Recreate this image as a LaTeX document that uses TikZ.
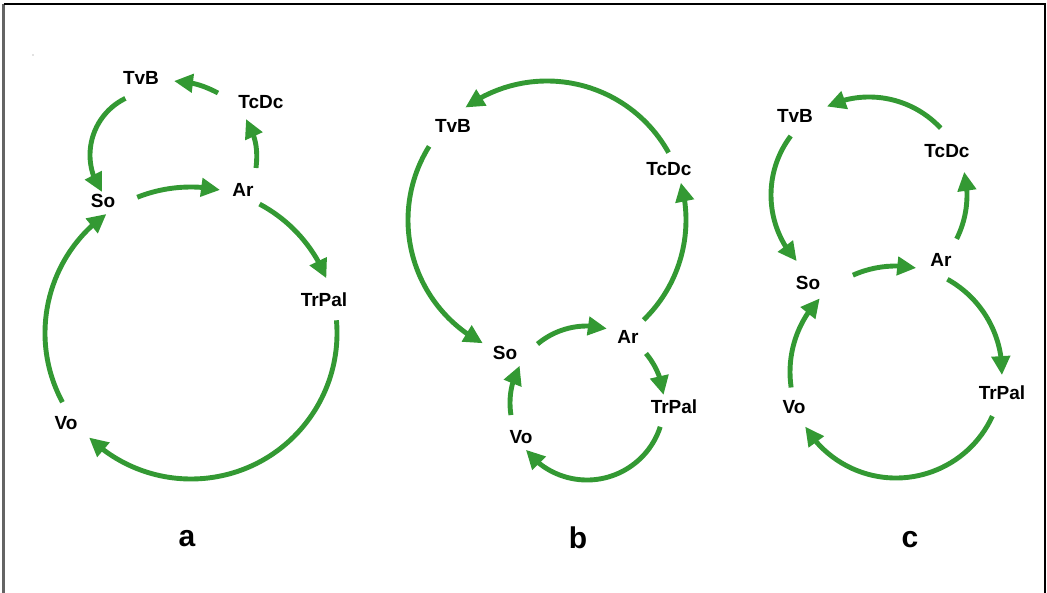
\documentclass[tikz,border=0pt]{standalone}
\usepackage{fontspec}
\setmainfont{Liberation Sans}
\usetikzlibrary{arrows.meta,bending}
\definecolor{flowgreen}{RGB}{51,153,51}
\definecolor{framegray}{RGB}{100,100,100}
\newcommand\flowarc[4]{\draw[flow] ([shift={(#2:#4)}]#1) arc[start angle=#2, end angle=#3, radius=#4];}
\begin{document}
\begin{tikzpicture}[x=1pt,y=-1pt,
  flow/.style={draw=flowgreen, line width=4.9pt, -{Triangle[length=19pt,width=18pt]}},
  lbl/.style={font=\fontsize{19}{19}\selectfont\bfseries, inner sep=0pt},
  panel/.style={font=\fontsize{30}{30}\selectfont\bfseries, inner sep=0pt}]
\useasboundingbox (0,0) rectangle (1047,593);
% frame
\coordinate (fbl) at (3.5,593);
\coordinate (ftl) at (3.5,4.5);
\coordinate (ftr) at (1045,4.5);
\coordinate (fbr) at (1045,593);
\draw[framegray, line width=2.5pt] (fbl) -- (ftl);
\draw[black, line width=2pt] (ftl) -- (ftr) -- (fbr);
\fill[gray] (33,55) circle[radius=0.7];

% ---------- panel a ----------
\node[lbl] (aTvB) at (141,78) {TvB};
\node[lbl] (aTcDc) at (261,102) {TcDc};
\node[lbl] (aSo) at (103,201) {So};
\node[lbl] (aAr) at (243,190) {Ar};
\node[lbl] (aTrPal) at (324,300) {TrPal};
\node[lbl] (aVo) at (66,423) {Vo};
\node[panel] (la) at (187,539) {a};
\coordinate (ca) at (191,333);
\coordinate (cat) at (153,155);
\coordinate (a1) at (218,93);
\coordinate (a2) at (174,81);
\coordinate (a3) at (256,168);
\coordinate (a4) at (246,119);
\flowarc{ca}{-111.6}{-78.5}{146}
\flowarc{ca}{-62}{-22}{146}
\flowarc{ca}{-5}{134.3}{146}
\flowarc{ca}{151.7}{234.6}{146}
\flowarc{cat}{-116}{-216}{63}
\draw[flow] (a1) to[bend right=12] (a2);
\draw[flow] (a3) to[bend right=18] (a4);

% ---------- panel b ----------
\node[lbl] (bTvB) at (453,126) {TvB};
\node[lbl] (bTcDc) at (669,169) {TcDc};
\node[lbl] (bSo) at (505,353) {So};
\node[lbl] (bAr) at (628,337) {Ar};
\node[lbl] (bTrPal) at (674,407) {TrPal};
\node[lbl] (bVo) at (521,437) {Vo};
\node[panel] (lb) at (578,538) {b};
\coordinate (cb1) at (547,220);
\coordinate (cb2) at (587,403);
\flowarc{cb1}{-29}{-126}{139}
\flowarc{cb1}{212}{117.5}{139}
\flowarc{cb1}{46}{-15.6}{139}
\flowarc{cb2}{-130}{-75}{77}
\flowarc{cb2}{-40}{-6}{77}
\flowarc{cb2}{18}{142.6}{77}
\flowarc{cb2}{171}{209}{77}

% ---------- panel c ----------
\node[lbl] (cTvB) at (795,116) {TvB};
\node[lbl] (cTcDc) at (947,151) {TcDc};
\node[lbl] (cSo) at (808,283) {So};
\node[lbl] (cAr) at (941,260) {Ar};
\node[lbl] (cTrPal) at (1002,393) {TrPal};
\node[lbl] (cVo) at (794,407) {Vo};
\node[panel] (lc) at (910,540) {c};
\coordinate (cc1) at (869,195);
\coordinate (cc2) at (896,372);
\flowarc{cc1}{-43}{-115.5}{98}
\flowarc{cc1}{217}{137.5}{98}
\flowarc{cc1}{26.6}{-13.7}{98}
\flowarc{cc2}{-114}{-79}{106}
\flowarc{cc2}{-61}{1.7}{106}
\flowarc{cc2}{24.6}{149}{106}
\flowarc{cc2}{171.6}{224}{106}
\end{tikzpicture}
\end{document}
